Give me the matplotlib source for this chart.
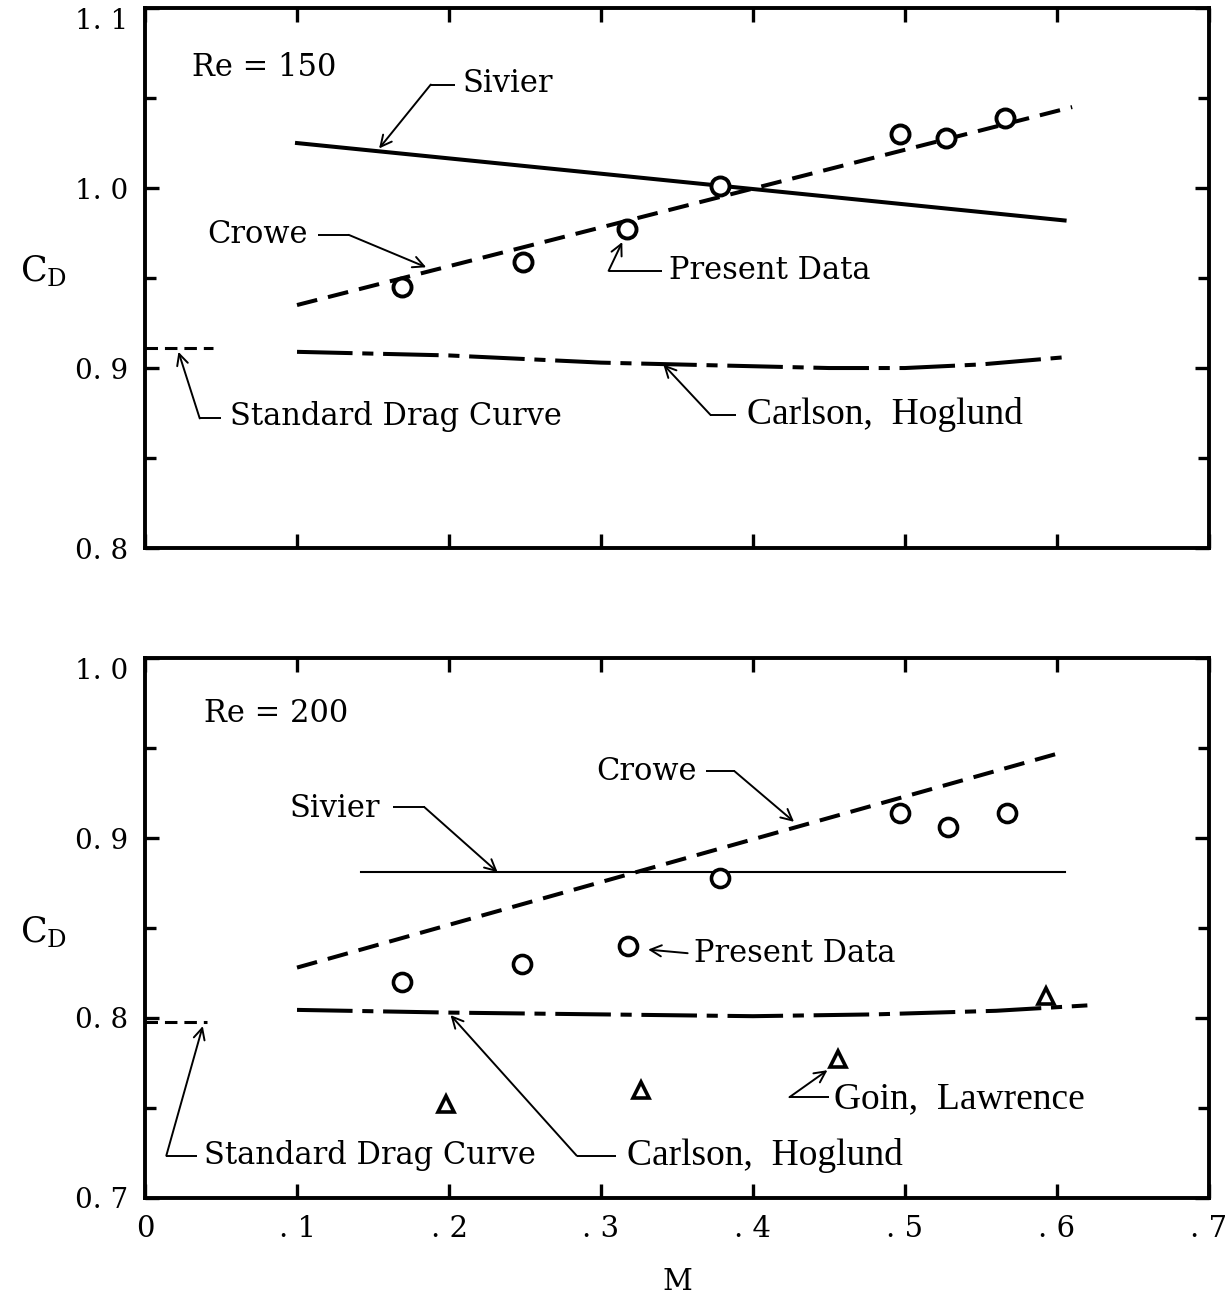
import matplotlib
matplotlib.use('Agg')
import matplotlib.pyplot as plt

plt.rcParams['font.family'] = 'DejaVu Serif'
plt.rcParams['mathtext.fontset'] = 'dejavuserif'
plt.rcParams['lines.scale_dashes'] = False

# ---- Re = 150 ----
m_sivier_150 = [0.10, 0.605]
cd_sivier_150 = [1.025, 0.982]
m_crowe_150 = [0.10, 0.61]
cd_crowe_150 = [0.935, 1.045]
m_carlson_150 = [0.10, 0.20, 0.30, 0.40, 0.45, 0.50, 0.55, 0.605]
cd_carlson_150 = [0.909, 0.907, 0.903, 0.901, 0.900, 0.900, 0.902, 0.906]
m_std_150 = [0.0, 0.045]
cd_std_150 = [0.911, 0.911]
m_present_150 = [0.169, 0.249, 0.317, 0.378, 0.497, 0.527, 0.566]
cd_present_150 = [0.945, 0.959, 0.977, 1.001, 1.030, 1.028, 1.039]

# ---- Re = 200 ----
m_sivier_200 = [0.142, 0.605]
cd_sivier_200 = [0.881, 0.881]
m_crowe_200 = [0.10, 0.605]
cd_crowe_200 = [0.828, 0.948]
m_carlson_200 = [0.10, 0.20, 0.30, 0.40, 0.48, 0.56, 0.62]
cd_carlson_200 = [0.8045, 0.803, 0.802, 0.801, 0.802, 0.804, 0.807]
m_std_200 = [0.0, 0.041]
cd_std_200 = [0.798, 0.798]
m_present_200 = [0.169, 0.248, 0.318, 0.378, 0.497, 0.528, 0.567]
cd_present_200 = [0.820, 0.830, 0.840, 0.878, 0.914, 0.906, 0.914]
m_goin_200 = [0.198, 0.326, 0.456, 0.593]
cd_goin_200 = [0.752, 0.760, 0.777, 0.812]

x_ticks = [0.0, 0.1, 0.2, 0.3, 0.4, 0.5, 0.6, 0.7]
x_labels = ['0', '. 1', '. 2', '. 3', '. 4', '. 5', '. 6', '. 7']
y_ticks_150 = [0.8, 0.9, 1.0, 1.1]
y_labels_150 = ['0. 8', '0. 9', '1. 0', '1. 1']
y_ticks_200 = [0.7, 0.8, 0.9, 1.0]
y_labels_200 = ['0. 7', '0. 8', '0. 9', '1. 0']

LW = 2.9
DASHED = (0, (15, 8))
DASHDOT = (0, (40, 7, 8, 7))
SHORTDASH = (0, (9, 5))
LABEL_FS = 22
COND = dict(family='Liberation Serif', fontsize=27)


def callout(ax, label, text_xy, leader, tip, **font):
    """Text with a thin leader line ending in an open arrow."""
    kw = dict(fontsize=LABEL_FS, va='center', ha='left')
    kw.update(font)
    ax.text(text_xy[0], text_xy[1], label, **kw)
    if len(leader) > 1:
        ax.plot([p[0] for p in leader], [p[1] for p in leader],
                color='black', lw=1.4, solid_capstyle='butt')
    ax.annotate('', xy=tip, xytext=leader[-1],
                arrowprops=dict(arrowstyle='->', lw=1.4, color='black',
                                mutation_scale=20, shrinkA=0, shrinkB=0))


def style_axes(ax, yticks, ylabels, show_x):
    ax.set_xlim(0, 0.7)
    ax.set_ylim(yticks[0], yticks[-1])
    ax.set_xticks(x_ticks)
    ax.set_yticks(yticks)
    ax.set_yticks([y + 0.05 for y in yticks[:-1]], minor=True)
    if show_x:
        ax.set_xticklabels(x_labels, fontsize=21)
    else:
        ax.set_xticklabels([])
    ax.set_yticklabels(ylabels, fontsize=20)
    ax.tick_params(which='major', direction='in', length=10, width=2.4,
                   top=True, right=True, pad=12)
    ax.tick_params(which='minor', direction='in', length=8, width=2.4,
                   top=True, right=True)
    for s in ax.spines.values():
        s.set_linewidth(2.8)
    # the topmost value label hangs below its tick
    ax.get_yticklabels()[-1].set_verticalalignment('top')
    ax.set_ylabel(r'$\mathrm{C_D}$', fontsize=25, rotation=0)


fig = plt.figure(figsize=(12.30, 13.02), dpi=100)
ax1 = fig.add_axes([0.1179, 0.5791, 0.865, 0.4147])
ax2 = fig.add_axes([0.1179, 0.0799, 0.865, 0.4147])

# ---------------- top panel: Re = 150 ----------------
ax1.plot(m_sivier_150, cd_sivier_150, '-', color='black', lw=LW)
ax1.plot(m_crowe_150, cd_crowe_150, color='black', lw=LW, linestyle=DASHED)
ax1.plot(m_carlson_150, cd_carlson_150, color='black', lw=LW, linestyle=DASHDOT)
ax1.plot(m_std_150, cd_std_150, color='black', lw=2.2, linestyle=SHORTDASH)
ax1.plot(m_present_150, cd_present_150, 'o', ms=13, mfc='white', mec='black',
         mew=2.8, zorder=5)

ax1.text(0.031, 1.067, 'Re = 150', fontsize=LABEL_FS, va='center')
callout(ax1, 'Sivier', (0.209, 1.058), [(0.204, 1.0575), (0.188, 1.0575)],
        (0.154, 1.022))
callout(ax1, 'Crowe', (0.041, 0.974), [(0.114, 0.974), (0.134, 0.974)],
        (0.185, 0.956))
callout(ax1, 'Present Data', (0.345, 0.954), [(0.340, 0.954), (0.305, 0.954)],
        (0.314, 0.970))
callout(ax1, 'Standard Drag Curve', (0.056, 0.873),
        [(0.050, 0.872), (0.036, 0.872)], (0.022, 0.909))
callout(ax1, 'Carlson,  Hoglund', (0.396, 0.874),
        [(0.389, 0.874), (0.372, 0.874)], (0.341, 0.902), **COND)

style_axes(ax1, y_ticks_150, y_labels_150, show_x=False)
ax1.yaxis.set_label_coords(-0.095, 0.48)

# ---------------- bottom panel: Re = 200 ----------------
ax2.plot(m_sivier_200, cd_sivier_200, '-', color='black', lw=1.5)
ax2.plot(m_crowe_200, cd_crowe_200, color='black', lw=LW, linestyle=DASHED)
ax2.plot(m_carlson_200, cd_carlson_200, color='black', lw=LW, linestyle=DASHDOT)
ax2.plot(m_std_200, cd_std_200, color='black', lw=2.2, linestyle=SHORTDASH)
ax2.plot(m_present_200, cd_present_200, 'o', ms=13, mfc='white', mec='black',
         mew=2.6, zorder=5)
ax2.plot(m_goin_200, cd_goin_200, '^', ms=11, mfc='white', mec='black',
         mew=2.6, zorder=5)

ax2.text(0.039, 0.969, 'Re = 200', fontsize=LABEL_FS, va='center')
callout(ax2, 'Sivier', (0.095, 0.9165), [(0.163, 0.917), (0.184, 0.917)],
        (0.232, 0.881))
callout(ax2, 'Crowe', (0.297, 0.937), [(0.369, 0.937), (0.388, 0.937)],
        (0.427, 0.909))
callout(ax2, 'Present Data', (0.361, 0.836), [(0.357, 0.836)],
        (0.331, 0.838))
callout(ax2, 'Standard Drag Curve', (0.039, 0.7235),
        [(0.034, 0.7235), (0.014, 0.7235)], (0.038, 0.7955))
callout(ax2, 'Carlson,  Hoglund', (0.317, 0.7235),
        [(0.310, 0.7235), (0.284, 0.7235)], (0.201, 0.8016), **COND)
callout(ax2, 'Goin,  Lawrence', (0.453, 0.755),
        [(0.450, 0.756), (0.424, 0.756)], (0.449, 0.771), **COND)

style_axes(ax2, y_ticks_200, y_labels_200, show_x=True)
ax2.yaxis.set_label_coords(-0.095, 0.46)
ax2.set_xlabel('M', fontsize=21, labelpad=18)

fig.savefig('out.png', dpi=100, facecolor='white')
